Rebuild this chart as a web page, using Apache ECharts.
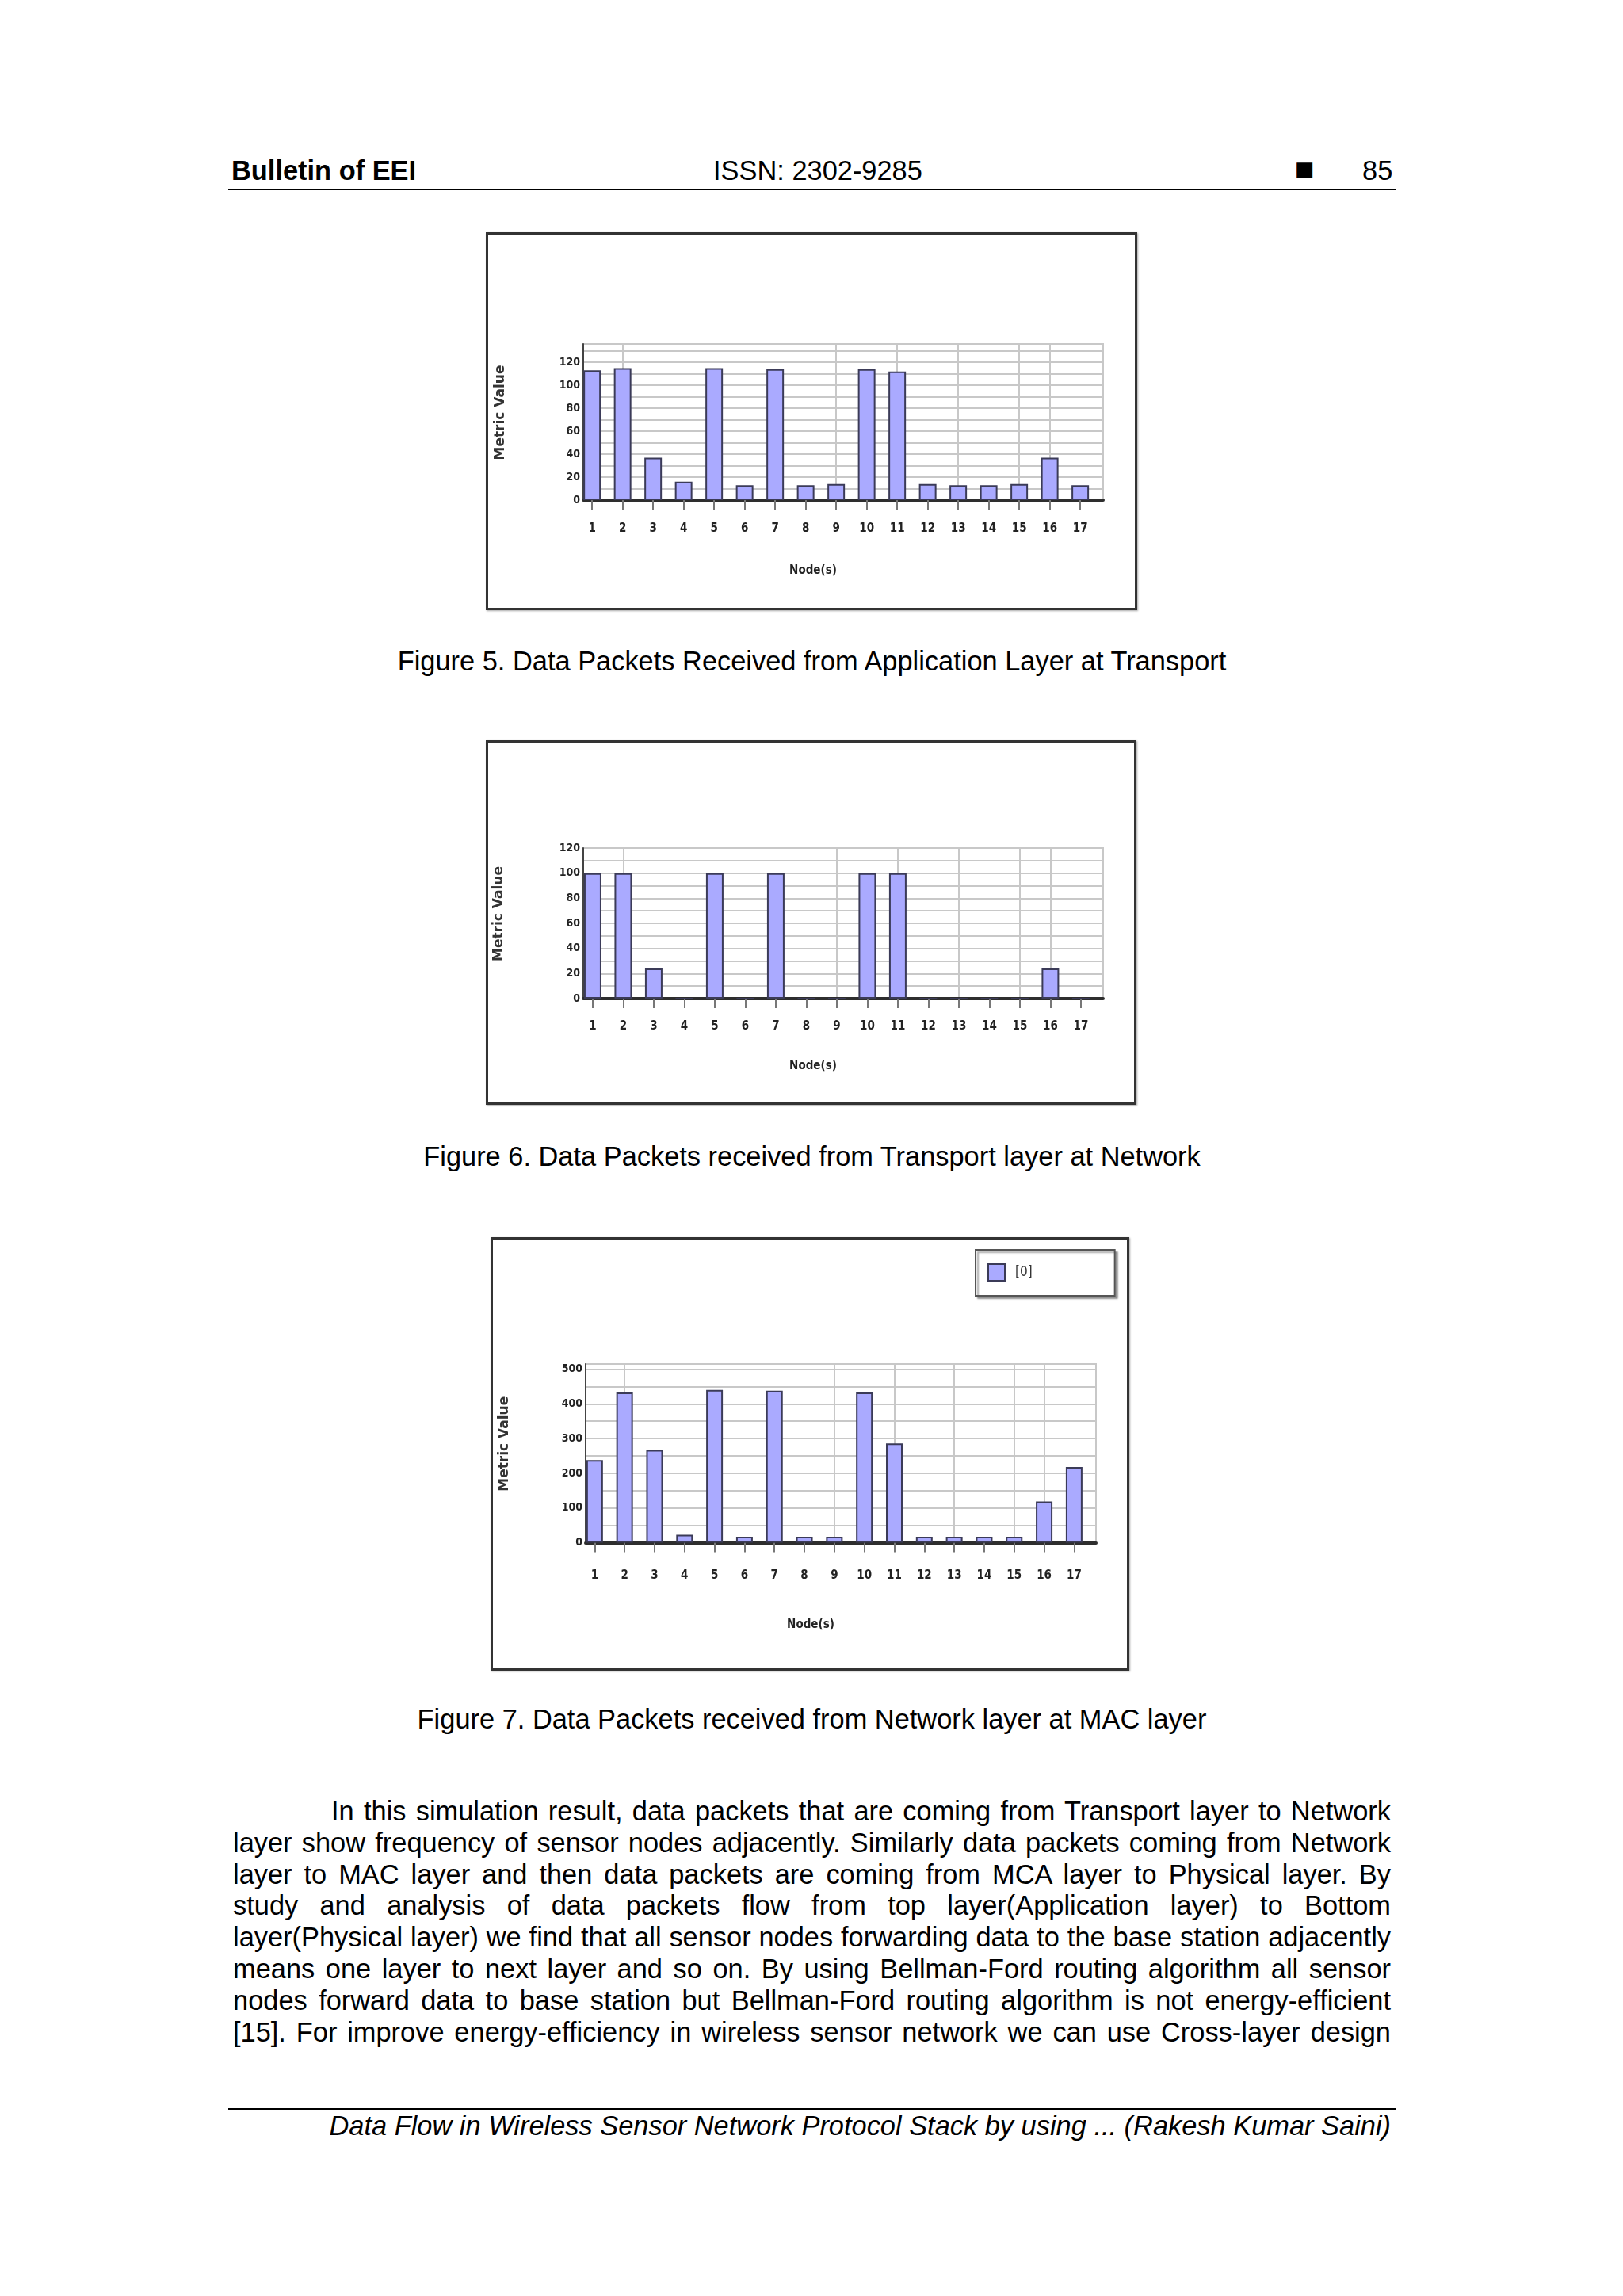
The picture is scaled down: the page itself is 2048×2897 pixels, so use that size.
<!DOCTYPE html>
<html>
<head>
<meta charset="utf-8">
<script src="https://cdn.jsdelivr.net/npm/echarts@6/dist/echarts.min.js"></script>
<style>
html,body{margin:0;padding:0;background:#fff;}
body{width:2048px;height:2897px;position:relative;overflow:hidden;font-family:'Liberation Sans',Arial,sans-serif;color:#000;}
.t{position:absolute;font-size:34.4px;line-height:1;white-space:nowrap;}
.rule{position:absolute;background:#000;height:2px;left:288px;width:1473px;}
.chart{position:absolute;}
.frame{position:absolute;box-sizing:border-box;border:3px solid #333;pointer-events:none;box-shadow:1px 1px 2px rgba(0,0,0,.35);}
.cap{position:absolute;left:294px;width:1461px;text-align:center;font-size:34.4px;line-height:1;white-space:nowrap;}
.para{position:absolute;left:294px;top:2266px;width:1461px;font-size:34.4px;line-height:39.8px;}
.para div{text-align:justify;text-align-last:justify;}
</style>
</head>
<body>
<div class="t" style="left:292px;top:198px;font-weight:bold;">Bulletin of EEI</div>
<div class="t" style="left:900px;top:198px;">ISSN: 2302-9285</div>
<div class="t" style="left:1634px;top:200px;font-family:'DejaVu Sans';font-size:26px;">■</div>
<div class="t" style="left:1719px;top:198px;">85</div>
<div class="rule" style="top:238px;"></div>

<div id="fig5" class="chart" style="left:613px;top:293px;width:822px;height:477px;"></div>
<div class="frame" style="left:613px;top:293px;width:822px;height:477px;"></div>
<div class="cap" style="top:817px;">Figure 5. Data Packets Received from Application Layer at Transport</div>

<div id="fig6" class="chart" style="left:613px;top:934px;width:821px;height:460px;"></div>
<div class="frame" style="left:613px;top:934px;width:821px;height:460px;"></div>
<div class="cap" style="top:1442px;">Figure 6. Data Packets received from Transport layer at Network</div>

<div id="fig7" class="chart" style="left:619px;top:1561px;width:806px;height:547px;"></div>
<div class="frame" style="left:619px;top:1561px;width:806px;height:547px;"></div>
<div class="cap" style="top:2152px;">Figure 7. Data Packets received from Network layer at MAC layer</div>

<div class="para">
<div style="padding-left:124px;">In this simulation result, data packets that are coming from Transport layer to Network</div>
<div>layer show frequency of sensor nodes adjacently. Similarly data packets coming from Network</div>
<div>layer to MAC layer and then data packets are coming from MCA layer to Physical layer. By</div>
<div>study and analysis of data packets flow from top layer(Application layer) to Bottom</div>
<div>layer(Physical layer) we find that all sensor nodes forwarding data to the base station adjacently</div>
<div>means one layer to next layer and so on. By using Bellman-Ford routing algorithm all sensor</div>
<div>nodes forward data to base station but Bellman-Ford routing algorithm is not energy-efficient</div>
<div>[15]. For improve energy-efficiency in wireless sensor network we can use Cross-layer design</div>
</div>

<div class="rule" style="top:2660px;"></div>
<div class="t" style="right:293px;top:2665px;font-style:italic;">Data Flow in Wireless Sensor Network Protocol Stack by using ... (Rakesh Kumar Saini)</div>

<script>
// ---- data ----
const nodes = [1, 2, 3, 4, 5, 6, 7, 8, 9, 10, 11, 12, 13, 14, 15, 16, 17];
const fig5Values = [113, 115, 37, 16, 115, 13, 114, 13, 14, 114, 112, 14, 13, 13, 14, 37, 13];
const fig6Values = [100, 100, 24, 0, 100, 0, 100, 0, 0, 100, 100, 0, 0, 0, 0, 24, 0];
const fig7Values = [238, 433, 267, 23, 440, 17, 438, 17, 17, 433, 286, 17, 17, 17, 17, 119, 218];
const fig5YLabels = [0, 20, 40, 60, 80, 100, 120];
const fig6YLabels = [0, 20, 40, 60, 80, 100, 120];
const fig7YLabels = [0, 100, 200, 300, 400, 500];
const verticalGridNodes = [2, 9, 11, 13, 15, 16];
const seriesName = '[0]';
const yAxisTitle = 'Metric Value';
const xAxisTitle = 'Node(s)';

const COND = "'DejaVu Sans Condensed', 'Liberation Sans Narrow', 'DejaVu Sans', sans-serif";
const BAR_FILL = '#aaaaff';
const BAR_EDGE = '#3b3b58';
const GRID_COLOR = '#c8c8c8';

function buildOption(cfg) {
  const data = nodes.map((n, i) => [n, cfg.values[i]]);
  const opt = {
    animation: false,
    grid: {
      left: cfg.grid[0], right: cfg.grid[1], top: cfg.grid[2], bottom: cfg.grid[3],
      show: true, borderColor: GRID_COLOR, borderWidth: 2, backgroundColor: '#fff'
    },
    xAxis: [{
      type: 'value', min: cfg.xMin, max: cfg.xMax,
      axisLine: { show: true, onZero: false, lineStyle: { color: '#2e2e2e', width: 4 } },
      axisTick: { show: true, customValues: nodes, length: 12, lineStyle: { color: '#777', width: 2 } },
      axisLabel: { customValues: nodes, margin: cfg.labelMargin, fontSize: 15, fontWeight: 'bold',
                   color: '#222', fontFamily: COND, formatter: v => String(v) },
      splitLine: { show: false },
      name: xAxisTitle, nameLocation: 'middle', nameGap: cfg.xNameGap,
      nameTextStyle: { fontSize: 15, fontWeight: 'bold', color: '#222', fontFamily: COND, padding: [0, 76, 0, 0] }
    }, {
      type: 'value', min: cfg.xMin, max: cfg.xMax, position: 'top',
      axisLine: { show: false },
      axisTick: { show: false, customValues: verticalGridNodes },
      axisLabel: { show: false, customValues: verticalGridNodes },
      splitLine: { show: true, lineStyle: { color: GRID_COLOR, width: 2 } }
    }],
    yAxis: {
      type: 'value', min: 0, max: cfg.yMax, interval: cfg.yInterval,
      axisLine: { show: true, lineStyle: { color: '#444', width: 2 } },
      axisTick: { show: false },
      axisLabel: { customValues: cfg.yLabels, margin: 4, fontSize: 14, fontWeight: 'bold',
                   color: '#222', fontFamily: COND },
      splitLine: { show: true, lineStyle: { color: GRID_COLOR, width: 2 } },
      name: yAxisTitle, nameLocation: 'middle', nameRotate: 90, nameGap: cfg.yNameGap,
      nameTextStyle: { fontSize: 17, fontWeight: 'bold', color: '#333', fontFamily: "'DejaVu Sans', sans-serif",
                       padding: [0, 0, 0, 24] }
    },
    series: [{
      type: 'bar', name: seriesName, xAxisIndex: 0, data: data, barWidth: cfg.barWidth, z: 3,
      itemStyle: { color: BAR_FILL, borderColor: BAR_EDGE, borderWidth: 2 }
    }]
  };
  if (cfg.legend) {
    opt.legend = {
      show: true, left: cfg.legend[0], top: cfg.legend[1], orient: 'horizontal',
      itemWidth: 21, itemHeight: 21, padding: [17, 104, 18, 15],
      borderColor: '#555', borderWidth: 2, backgroundColor: '#fff',
      shadowColor: 'rgba(0,0,0,0.35)', shadowOffsetX: 3, shadowOffsetY: 3, shadowBlur: 2,
      data: [{ name: seriesName, icon: 'rect' }],
      textStyle: { fontSize: 17, color: '#333', fontFamily: COND, padding: [0, 0, 0, 8] }
    };
  }
  return opt;
}

const charts = [
  { id: 'fig5', values: fig5Values, yMax: 136, yInterval: 10, yLabels: fig5YLabels,
    xMin: 0.71, xMax: 17.75, grid: [123, 43, 141, 139], barWidth: 22,
    labelMargin: 29, xNameGap: 82, yNameGap: 96 },
  { id: 'fig6', values: fig6Values, yMax: 120, yInterval: 10, yLabels: fig6YLabels,
    xMin: 0.69, xMax: 17.73, grid: [123, 42, 136, 134], barWidth: 22,
    labelMargin: 28, xNameGap: 78, yNameGap: 98 },
  { id: 'fig7', values: fig7Values, yMax: 515, yInterval: 50, yLabels: fig7YLabels,
    xMin: 0.70, xMax: 17.73, grid: [120, 42, 160, 161.5], barWidth: 21,
    labelMargin: 34, xNameGap: 96, yNameGap: 94, legend: [612, 16] }
];

charts.forEach(cfg => {
  const c = echarts.init(document.getElementById(cfg.id), null, { renderer: 'canvas' });
  c.setOption(buildOption(cfg));
});
</script>
</body>
</html>
